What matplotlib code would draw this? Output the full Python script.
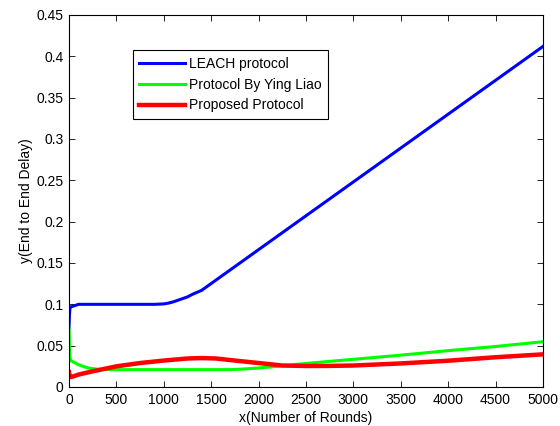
import matplotlib.pyplot as plt

# valores
x_leach = [0, 5, 10, 20, 50, 100, 300, 600, 900, 1000, 1050, 1100, 1150, 1200, 1250, 1300, 1350, 1400, 5000]
y_leach = [0.072, 0.088, 0.095, 0.097, 0.098, 0.1, 0.1, 0.1, 0.1, 0.1005, 0.1015, 0.103, 0.105, 0.107, 0.109, 0.112, 0.1145, 0.117, 0.412]

x_liao = [0, 5, 10, 20, 50, 100, 150, 200, 300, 500, 1000, 1500, 1700, 1800, 2000, 2200, 2500, 3000, 3500, 4000, 4500, 5000]
y_liao = [0.072, 0.045, 0.035, 0.032, 0.030, 0.027, 0.025, 0.023, 0.0215, 0.021, 0.021, 0.021, 0.021, 0.0215, 0.023, 0.025, 0.0285, 0.0335, 0.0385, 0.044, 0.049, 0.0548]

x_prop = [0, 5, 20, 50, 100, 250, 500, 750, 1000, 1250, 1400, 1550, 1750, 2000, 2250, 2500, 2750, 3000, 3500, 4000, 4500, 5000]
y_prop = [0.018, 0.013, 0.012, 0.013, 0.015, 0.019, 0.025, 0.029, 0.032, 0.0345, 0.035, 0.0345, 0.032, 0.029, 0.026, 0.0254, 0.0255, 0.026, 0.0285, 0.0318, 0.036, 0.0395]

plt.rcParams['font.family'] = ['Liberation Sans', 'DejaVu Sans']
plt.rcParams['font.size'] = 10

fig = plt.figure(figsize=(5.6, 4.26), dpi=100)
ax = fig.add_axes([69/560, 1 - 387/426, 474/560, 372/426])

ax.plot(x_leach, y_leach, color='#0000ff', linewidth=2.2, label='LEACH protocol')
ax.plot(x_liao, y_liao, color='#00ff00', linewidth=2.2, label='Protocol By Ying Liao')
ax.plot(x_prop, y_prop, color='#ff0000', linewidth=3.2, label='Proposed Protocol')

ax.set_xlim(0, 5000)
ax.set_ylim(0, 0.45)
ax.set_xticks(range(0, 5001, 500))
ax.set_yticks([0, 0.05, 0.1, 0.15, 0.2, 0.25, 0.3, 0.35, 0.4, 0.45])
ax.set_yticklabels(['0', '0.05', '0.1', '0.15', '0.2', '0.25', '0.3', '0.35', '0.4', '0.45'])
ax.tick_params(direction='in', top=True, right=True, length=4, width=0.6, pad=4)
for s in ax.spines.values():
    s.set_linewidth(0.8)

ax.set_xlabel('x(Number of Rounds)', labelpad=3)
ax.set_ylabel('y(End to End Delay)', labelpad=2.5)

leg = ax.legend(loc='upper left', bbox_to_anchor=(0.135, 0.905), fancybox=False,
                edgecolor='black', framealpha=1, handlelength=3.3, handletextpad=0.3,
                borderpad=0.45, labelspacing=0.5, borderaxespad=0)
leg.get_frame().set_linewidth(0.8)

fig.savefig('out.png', dpi=100)
